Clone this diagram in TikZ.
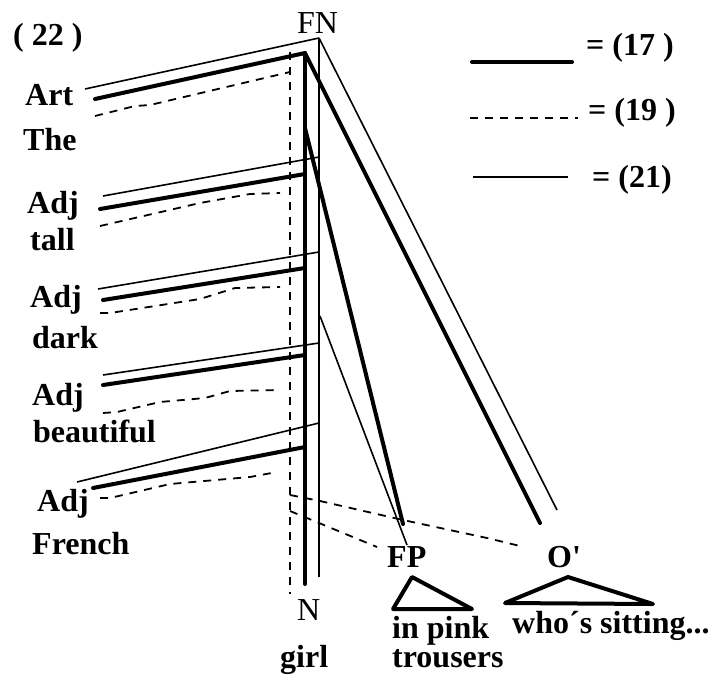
\documentclass[tikz,border=0pt]{standalone}
\usepackage{fontspec}
\setmainfont{Liberation Serif}
\usetikzlibrary{positioning}

\begin{document}
\begin{tikzpicture}[
	x=1pt, y=-1pt,
	lbl/.style={font=\fontsize{32}{34}\selectfont\bfseries, inner sep=0pt, anchor=base west},
	cat/.style={lbl, font=\fontsize{32}{34}\selectfont\mdseries},
	thickln/.style={line width=4pt, line cap=round, line join=round},
	thinln/.style={line width=1.6pt},
	dashln/.style={line width=1.8pt, dash pattern=on 8pt off 7pt}
	]
	\useasboundingbox (0,0) rectangle (709,675);
	%% ─── LABELS ─────────────────────────────────────────────
	\node[lbl] (num)    at (13,45)   {( 22 )};
	\node[cat] (fn)     at (297,33)  {FN};
	\node[lbl] (art)    at (25,105)  {Art};
	\node[lbl] (the)    at (23,150)  {The};
	\node[lbl] (adja)   at (27,213)  {Adj};
	\node[lbl] (tall)   at (30,250)  {tall};
	\node[lbl] (adjb)   at (30,307)  {Adj};
	\node[lbl] (dark)   at (32,348)  {dark};
	\node[lbl] (adjc)   at (32,405)  {Adj};
	\node[lbl] (beau)   at (33,442)  {beautiful};
	\node[lbl] (adjd)   at (37,511)  {Adj};
	\node[lbl] (french) at (32,554)  {French};
	\node[cat] (n)      at (297,620) {N};
	\node[lbl] (girl)   at (280,667) {girl};
	\node[lbl] (fp)     at (387,567) {FP};
	\node[lbl] (oc)     at (547,567) {O\textquotesingle};
	\node[lbl] (pink)   at (392,638) {in pink};
	\node[lbl] (trous)  at (392,667) {trousers};
	\node[lbl] (who)    at (512,633) {who´s sitting...};
	
	%% ─── LEGEND ─────────────────────────────────────────────
	\node[lbl] (k17) at (586,55)  {= (17 )};
	\node[lbl] (d19) at (588,120) {= (19 )};
	\node[lbl] (t21) at (592,187) {= (21)};
	\coordinate (kL) at (472,62);  \coordinate (kR) at (572,62);
	\coordinate (dL) at (470,118); \coordinate (dR) at (578,118);
	\coordinate (tL) at (473,177); \coordinate (tR) at (568,177);
	\draw[thickln] (kL) -- (kR);
	\draw[dashln]  (dL) -- (dR);
	\draw[thinln]  (tL) -- (tR);
	
	%% ─── TRUNK ──────────────────────────────────────────────
	\coordinate (tTop) at (319,38);  \coordinate (tBot) at (319,577);
	\coordinate (kTop) at (305,53);  \coordinate (kBot) at (305,584);
	\coordinate (dTop) at (290,52);  \coordinate (dBot) at (290,594);
	\draw[thinln]  (tTop) -- (tBot);
	\draw[thickln] (kTop) -- (kBot);
	\draw[dashln]  (dTop) -- (dBot);
	
	%% ─── ARTICLE AND ADJECTIVES ─────────────────────────────
	\coordinate (art-t) at (85,89);
	\coordinate (art-k) at (95,99);
	\coordinate (art-d) at (95,116);
	\draw[thinln]  (art-t) -- (tTop);
	\draw[thickln] (art-k) -- (kTop);
	\draw[dashln]  (art-d) -- (135,106) -- (150,105) -- (290,72);
	
	\coordinate (tall-t) at (103,196); \coordinate (tall-te) at (319,157);
	\coordinate (tall-k) at (100,209); \coordinate (tall-ke) at (305,174);
	\coordinate (tall-d) at (100,226); \coordinate (tall-de) at (280,193);
	\draw[thinln]  (tall-t) -- (tall-te);
	\draw[thickln] (tall-k) -- (tall-ke);
	\draw[dashln]  (tall-d) -- (200,203) -- (250,194) -- (tall-de);
	
	\coordinate (dark-t) at (98,289);  \coordinate (dark-te) at (319,252);
	\coordinate (dark-k) at (103,300); \coordinate (dark-ke) at (305,268);
	\coordinate (dark-d) at (100,313); \coordinate (dark-de) at (280,287);
	\draw[thinln]  (dark-t) -- (dark-te);
	\draw[thickln] (dark-k) -- (dark-ke);
	\draw[dashln]  (dark-d) -- (110,313) -- (200,299) -- (235,288) -- (dark-de);
	
	\coordinate (beau-t) at (103,375); \coordinate (beau-te) at (319,343);
	\coordinate (beau-k) at (103,385); \coordinate (beau-ke) at (305,355);
	\coordinate (beau-d) at (103,413); \coordinate (beau-de) at (280,390);
	\draw[thinln]  (beau-t) -- (beau-te);
	\draw[thickln] (beau-k) -- (beau-ke);
	\draw[dashln]  (beau-d) -- (117,412) -- (160,402) -- (205,398) -- (230,391) -- (beau-de);
	
	\coordinate (fr-t) at (77,482);  \coordinate (fr-te) at (319,423);
	\coordinate (fr-k) at (93,488);  \coordinate (fr-ke) at (305,447);
	\coordinate (fr-d) at (100,498); \coordinate (fr-de) at (277,472);
	\draw[thinln]  (fr-t) -- (fr-te);
	\draw[thickln] (fr-k) -- (fr-ke);
	\draw[dashln]  (fr-d) -- (110,498) -- (170,484) -- (250,477) -- (fr-de);
	
	%% ─── BRANCHES TO FP AND O' ──────────────────────────────
	\coordinate (oc-k) at (540,523);
	\coordinate (oc-t) at (557,510);
	\coordinate (oc-d) at (520,546);
	\coordinate (fp-k) at (403,524);
	\coordinate (fp-t) at (407,545);
	\coordinate (fp-d) at (377,547);
	\draw[thickln] (kTop) -- (oc-k);
	\draw[thinln]  (tTop) -- (oc-t);
	\draw[thickln] (305,128) -- (fp-k);
	\draw[thinln]  (320,316) -- (fp-t);
	\draw[dashln]  (290,495) -- (320,501) -- (403,520) -- (487,538) -- (oc-d);
	\draw[dashln]  (290,511) -- (fp-d);
	
	%% ─── TRIANGLES ──────────────────────────────────────────
	\draw[thickln] (412,577) -- (393,609) -- (472,609) -- cycle;
	\draw[thickln] (568,577) -- (505,603) -- (653,604) -- cycle;
\end{tikzpicture}
\end{document}
